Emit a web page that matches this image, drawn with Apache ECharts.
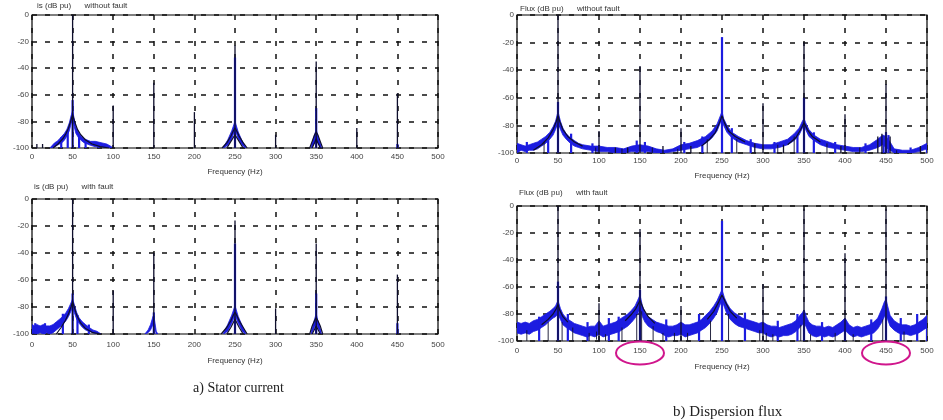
<!DOCTYPE html>
<html>
<head>
<meta charset="utf-8">
<script src="https://cdn.jsdelivr.net/npm/echarts/dist/echarts.min.js"></script>
<style>
  html, body { margin: 0; padding: 0; background: #fff; }
  #chart { width: 943px; height: 420px; }
</style>
</head>
<body>
<div id="chart"></div>
<script>
// Axis ticks shared by all four spectra
const freqTicks = [0, 50, 100, 150, 200, 250, 300, 350, 400, 450, 500];
const dbTicks = [0, -20, -40, -60, -80, -100];

// ---- Stator current, without fault ----
// harmonic lines [Hz, dB]
const curNoFaultLines = [[6,-97],[13,-97],[50,0],[100,-68],[150,-51],[200,-73],[250,-23],[300,-90],[350,-35],[400,-85],[450,-59]];
// thick blue spike part [Hz, dB]
const curNoFaultBlue = [[50,-64],[250,-32],[350,-70],[450,-97],[36,-92],[44,-86],[58,-90],[66,-94],[82,-96]];
// blue noise band [Hz, lower dB, upper dB]
const curNoFaultBand = [
  [22,-100,-100],[25,-100,-98],[28,-99,-96],[31,-98,-95],[34,-97,-93],[37,-96,-91],[40,-94,-89],[43,-91,-86],
  [46,-87,-81],[48,-82,-76],[50,-78,-72],[52,-84,-78],[54,-89,-84],[57,-92,-88],[60,-94,-91],[64,-96,-93],
  [68,-97,-94],[72,-98,-95],[78,-99,-95],[85,-99,-96],[92,-100,-97],[98,-100,-99],
  null,
  [236,-100,-99],[241,-98,-94],[246,-93,-87],[250,-86,-80],[254,-93,-88],[259,-98,-95],[263,-100,-99],
  null,
  [344,-100,-98],[348,-96,-90],[350,-92,-86],[352,-96,-91],[356,-100,-98]
];
// dark skirt outlines [Hz, dB]
const curNoFaultSkirt = [
  [26,-100],[32,-97],[38,-93],[42,-89],[45,-85],[47,-81],[49,-77],[50,-75],[51,-77],[53,-81],[56,-86],[60,-90],[66,-94],[74,-97],[84,-99],[95,-100],'-',
  [234,-100],[240,-96],[245,-91],[248,-87],[250,-85],[252,-87],[255,-91],[260,-96],[265,-100],'-',
  [240,-100],[245,-95],[250,-90],[255,-95],[260,-100],'-',
  [342,-100],[345,-95],[348,-90],[350,-88],[352,-90],[355,-95],[358,-100],'-',
  [345,-100],[348,-96],[350,-93],[352,-96],[355,-100]
];

// ---- Stator current, with fault ----
const curFaultLines = [[50,0],[100,-68],[150,-40],[250,-16],[300,-81],[350,-33],[450,-56]];
const curFaultBlue = [[50,-70],[150,-84],[250,-33],[350,-70],[450,-92],[4,-92],[16,-92],[38,-85],[56,-86],[70,-93]];
const curFaultBand = [
  [0,-100,-93],[3,-99,-94],[6,-100,-93],[10,-99,-94],[14,-100,-93],[18,-99,-94],[22,-100,-94],[26,-99,-93],
  [30,-97,-91],[34,-95,-89],[38,-93,-87],[42,-90,-84],[45,-87,-81],[48,-83,-77],[50,-80,-74],[52,-84,-78],
  [55,-89,-84],[58,-92,-88],[62,-95,-91],[66,-97,-93],[70,-98,-95],[75,-99,-97],[80,-100,-98],[85,-100,-100],
  null,
  [139,-100,-100],[143,-99,-97],[146,-97,-93],[149,-93,-87],[151,-95,-90],[153,-100,-98],[155,-100,-100],
  null,
  [236,-100,-99],[241,-98,-93],[246,-92,-86],[250,-86,-79],[254,-92,-87],[259,-98,-94],[263,-100,-99],
  null,
  [344,-100,-98],[348,-95,-89],[350,-91,-85],[352,-95,-90],[356,-100,-98]
];
const curFaultSkirt = [
  [30,-100],[36,-95],[41,-90],[45,-85],[48,-80],[50,-76],[52,-80],[55,-86],[60,-92],[66,-96],[75,-99],[85,-100],'-',
  [233,-100],[240,-95],[245,-90],[248,-86],[250,-84],[252,-86],[255,-90],[260,-95],[265,-100],'-',
  [240,-100],[245,-95],[250,-89],[255,-95],[260,-100],'-',
  [342,-100],[345,-94],[348,-90],[350,-88],[352,-90],[355,-94],[358,-100],'-',
  [345,-100],[350,-94],[355,-100]
];

// ---- Dispersion flux, without fault ----
const fluxNoFaultLines = [[50,0],[100,-84],[150,-37],[200,-82],[300,-64],[350,-20],[400,-72],[450,-50],
  [120,-96],[135,-96],[178,-95],[212,-95],[290,-93],[325,-94],[395,-95],[440,-88],[445,-86],[455,-88],[492,-95]];
const fluxNoFaultBlue = [[50,-63],[250,-16],[350,-60],[450,-85],[447,-88],[453,-87],[500,-94],
  [12,-92],[38,-88],[66,-86],[92,-93],[146,-91],[156,-92],[204,-92],[226,-88],[262,-82],[285,-90],[314,-92],
  [342,-86],[362,-85],[388,-92],[425,-93],[480,-96]];
const fluxNoFaultBand = [
  [0,-100,-93],[5,-98,-94],[10,-99,-95],[15,-98,-94],[20,-98,-93],[25,-97,-92],[30,-95,-90],[35,-93,-88],
  [40,-90,-85],[44,-87,-81],[47,-83,-77],[50,-78,-70],[53,-83,-77],[56,-87,-82],[60,-90,-86],[65,-93,-89],
  [70,-95,-91],[75,-96,-93],[80,-97,-94],[90,-98,-95],[100,-99,-95],[110,-99,-96],[120,-100,-96],[130,-100,-97],
  [140,-99,-95],[150,-99,-94],[160,-99,-95],[170,-100,-97],[180,-100,-98],[190,-99,-97],[200,-98,-94],[210,-97,-93],
  [220,-96,-91],[230,-93,-88],[238,-89,-84],[244,-84,-79],[248,-78,-73],[250,-76,-70],[252,-80,-75],[256,-85,-80],
  [262,-89,-85],[270,-92,-88],[280,-94,-91],[290,-96,-93],[300,-97,-94],[310,-97,-94],[320,-96,-92],[330,-94,-90],
  [338,-91,-86],[344,-87,-82],[348,-82,-77],[350,-80,-75],[352,-83,-78],[356,-88,-83],[362,-91,-87],[370,-94,-90],
  [380,-96,-92],[390,-97,-94],[400,-98,-95],[410,-99,-96],[420,-99,-96],[430,-98,-94],[440,-96,-90],[446,-94,-87],
  [450,-96,-88],[455,-98,-92],[460,-100,-97],[470,-100,-98],[480,-100,-98],[490,-99,-96],[500,-97,-93]
];
const fluxNoFaultSkirt = [
  [20,-98],[30,-94],[38,-89],[44,-83],[48,-77],[50,-73],[52,-77],[56,-83],[62,-88],[70,-92],[80,-95],'-',
  [225,-95],[235,-90],[242,-85],[247,-78],[250,-73],[253,-78],[258,-84],[266,-88],[278,-92],'-',
  [330,-94],[340,-89],[346,-83],[350,-78],[354,-83],[360,-88],[370,-92]
];
// narrow dips of the noise floor [Hz, upper dB, lower dB]
const fluxNoFaultDips = [[33,-92,-100],[96,-96,-100],[128,-97,-100],[165,-96,-100],[196,-97,-100],[232,-90,-100],
  [268,-90,-100],[318,-94,-100],[338,-88,-100],[378,-93,-100],[418,-96,-100],[463,-98,-100]];

// ---- Dispersion flux, with fault ----
const fluxFaultLines = [[50,0],[100,-72],[150,-17],[200,-74],[300,-58],[350,-2],[400,-35],[450,-2]];
const fluxFaultBlue = [[50,-56],[150,-62],[250,-11],[350,-78],[400,-84],[450,-67],[500,-82],
  [27,-82],[62,-80],[86,-86],[112,-83],[124,-82],[182,-84],[222,-80],[278,-79],[318,-85],[342,-80],
  [372,-86],[432,-84],[468,-83],[488,-80]];
const fluxFaultBand = [
  [0,-94,-86],[5,-95,-87],[10,-94,-86],[15,-95,-87],[20,-93,-85],[25,-92,-84],[30,-90,-82],[35,-88,-80],
  [40,-85,-78],[44,-83,-76],[47,-82,-74],[50,-80,-70],[53,-84,-76],[56,-88,-80],[60,-90,-83],[65,-92,-85],
  [70,-94,-87],[75,-95,-88],[80,-96,-89],[85,-97,-90],[90,-96,-89],[95,-97,-89],[100,-95,-85],[105,-97,-89],
  [110,-96,-88],[115,-95,-87],[120,-94,-86],[125,-93,-84],[130,-91,-82],[135,-89,-80],[140,-86,-77],[144,-83,-74],
  [147,-80,-70],[150,-76,-66],[153,-82,-74],[156,-86,-79],[160,-89,-82],[165,-91,-84],[170,-93,-86],[175,-94,-87],
  [180,-96,-88],[185,-97,-89],[190,-96,-89],[195,-96,-88],[200,-95,-86],[205,-97,-88],[210,-96,-88],[215,-95,-87],
  [220,-94,-86],[225,-92,-84],[230,-90,-81],[235,-87,-78],[240,-83,-74],[244,-79,-70],[247,-74,-66],[250,-70,-62],
  [253,-75,-68],[256,-80,-72],[260,-84,-76],[265,-87,-79],[270,-89,-81],[275,-90,-83],[280,-91,-84],[285,-92,-85],
  [290,-93,-86],[295,-94,-87],[300,-94,-86],[305,-96,-88],[310,-97,-89],[315,-96,-89],[320,-97,-90],[325,-96,-89],
  [330,-96,-88],[335,-95,-87],[340,-93,-85],[345,-90,-81],[348,-88,-79],[350,-86,-77],[353,-90,-82],[356,-94,-86],
  [360,-96,-88],[365,-97,-89],[370,-96,-89],[375,-97,-90],[380,-96,-89],[385,-97,-90],[390,-96,-88],[395,-94,-86],
  [400,-92,-83],[405,-95,-88],[410,-97,-90],[415,-96,-89],[420,-97,-90],[425,-96,-89],[430,-95,-88],[435,-94,-86],
  [440,-91,-83],[445,-86,-76],[448,-82,-71],[450,-80,-69],[452,-84,-74],[455,-89,-81],[460,-92,-85],[465,-94,-87],
  [470,-95,-88],[475,-95,-88],[480,-96,-89],[485,-95,-88],[490,-94,-86],[495,-92,-84],[500,-90,-81]
];
const fluxFaultSkirt = [
  [30,-88],[38,-84],[44,-80],[48,-76],[50,-73],[52,-77],[56,-82],[62,-86],'-',
  [132,-85],[140,-80],[145,-76],[150,-70],[154,-76],[160,-82],[168,-87],'-',
  [232,-84],[240,-78],[246,-71],[250,-66],[254,-71],[260,-78],[268,-83]
];
const fluxFaultDips = [[12,-92,-100],[38,-86,-100],[55,-86,-100],[68,-90,-100],[88,-94,-100],[97,-93,-99],[108,-95,-100],
  [128,-90,-100],[146,-80,-100],[152,-78,-100],[166,-89,-100],[178,-94,-100],[192,-94,-100],[208,-94,-100],[236,-85,-100],
  [258,-80,-100],[296,-92,-100],[304,-94,-100],[312,-95,-100],[346,-88,-100],[358,-95,-100],[388,-94,-100],[410,-95,-100],
  [446,-84,-100],[472,-93,-100]];

// ---- layout of the four spectra ----
const panels = [
  { grid: { left: 32, top: 15, width: 406, height: 133 }, title: 'is (dB pu)      without fault', tpos: [37, 2],
    lines: curNoFaultLines, blue: curNoFaultBlue, band: curNoFaultBand, skirt: curNoFaultSkirt, dips: [], lm: 5, ng: 20 },
  { grid: { left: 32, top: 199, width: 406, height: 135 }, title: 'is (dB pu)      with fault', tpos: [34, 183],
    lines: curFaultLines, blue: curFaultBlue, band: curFaultBand, skirt: curFaultSkirt, dips: [], lm: 7, ng: 23 },
  { grid: { left: 517, top: 15, width: 410, height: 138 }, title: 'Flux (dB pu)      without fault', tpos: [520, 5],
    lines: fluxNoFaultLines, blue: fluxNoFaultBlue, band: fluxNoFaultBand, skirt: fluxNoFaultSkirt, dips: fluxNoFaultDips, lm: 4, ng: 19 },
  { grid: { left: 517, top: 206, width: 410, height: 135 }, title: 'Flux (dB pu)      with fault', tpos: [519, 189],
    lines: fluxFaultLines, blue: fluxFaultBlue, band: fluxFaultBand, skirt: fluxFaultSkirt, dips: fluxFaultDips, lm: 6, ng: 22 }
];

const BLUE = '#1c1ce0';
const DARK = '#0e0e2c';
const FONT = '"Liberation Sans", Arial, sans-serif';
const SERIF = '"Liberation Serif", "Times New Roman", serif';
const yBase = dbTicks[dbTicks.length - 1];

// vertical segments [x, y1, y2] through the axes of one panel
function segmentSeries(i, data, color, width, z) {
  return {
    type: 'custom', xAxisIndex: i, yAxisIndex: i, silent: true, z: z, clip: true,
    data: data,
    renderItem: function (params, api) {
      const a = api.coord([api.value(0), api.value(1)]);
      const b = api.coord([api.value(0), api.value(2)]);
      return { type: 'line', shape: { x1: a[0], y1: a[1], x2: b[0], y2: b[1] },
               style: { stroke: color, lineWidth: width } };
    }
  };
}

// filled noise band between lower and upper edges, split at null entries
function bandSeries(i, band, color, z) {
  return {
    type: 'custom', xAxisIndex: i, yAxisIndex: i, silent: true, z: z, clip: true,
    data: [[band[0][0], band[0][1]]],
    renderItem: function (params, api) {
      const parts = [[]];
      band.forEach(function (d) { if (d === null) parts.push([]); else parts[parts.length - 1].push(d); });
      const children = parts.filter(function (p) { return p.length > 1; }).map(function (p) {
        const upper = p.map(function (d) { return api.coord([d[0], d[2]]); });
        const lower = p.slice().reverse().map(function (d) { return api.coord([d[0], d[1]]); });
        return { type: 'polygon', shape: { points: upper.concat(lower) },
                 style: { fill: color, stroke: color, lineWidth: 0.8 } };
      });
      return { type: 'group', children: children };
    }
  };
}

const option = {
  backgroundColor: '#fff',
  animation: false,
  title: panels.map(function (p) {
    return { text: p.title, left: p.tpos[0], top: p.tpos[1], padding: 0,
             textStyle: { fontFamily: FONT, fontSize: 8, fontWeight: 'normal', color: '#333' } };
  }).concat([
    { text: 'a) Stator current', left: 193, top: 381, padding: 0,
      textStyle: { fontFamily: SERIF, fontSize: 14, fontWeight: 'normal', color: '#222' } },
    { text: 'b) Dispersion flux', left: 673, top: 405, padding: 0,
      textStyle: { fontFamily: SERIF, fontSize: 15, fontWeight: 'normal', color: '#222' } }
  ]),
  grid: panels.map(function (p) {
    return Object.assign({ show: true, borderColor: '#000', borderWidth: 1.2, backgroundColor: '#fff' }, p.grid);
  }),
  xAxis: panels.map(function (p, i) {
    return {
      type: 'value', gridIndex: i, min: freqTicks[0], max: freqTicks[freqTicks.length - 1],
      interval: freqTicks[1] - freqTicks[0],
      name: 'Frequency (Hz)', nameLocation: 'middle', nameGap: p.ng,
      nameTextStyle: { fontFamily: FONT, fontSize: 8, color: '#333' },
      axisLine: { show: false }, axisTick: { show: false },
      axisLabel: { fontFamily: FONT, fontSize: 8, color: '#444', margin: p.lm },
      splitLine: { show: true, lineStyle: { color: '#111', width: 1.5, type: [5, 8] } }
    };
  }),
  yAxis: panels.map(function (p, i) {
    return {
      type: 'value', gridIndex: i, min: yBase, max: dbTicks[0], interval: dbTicks[0] - dbTicks[1],
      axisLine: { show: false }, axisTick: { show: false },
      axisLabel: { fontFamily: FONT, fontSize: 8, color: '#444', margin: 3 },
      splitLine: { show: true, lineStyle: { color: '#111', width: 1.5, type: [5, 8] } }
    };
  }),
  series: []
};

panels.forEach(function (p, i) {
  option.series.push(bandSeries(i, p.band, BLUE, 2));
  option.series.push(segmentSeries(i, p.blue.map(function (d) { return [d[0], d[1], yBase]; }), BLUE, 2.2, 3));
  if (p.dips.length) option.series.push(segmentSeries(i, p.dips, DARK, 0.9, 4));
  option.series.push({
    type: 'line', xAxisIndex: i, yAxisIndex: i, data: p.skirt, showSymbol: false, symbol: 'none',
    silent: true, z: 5, lineStyle: { color: DARK, width: 1.2 }, connectNulls: false
  });
  option.series.push(segmentSeries(i, p.lines.map(function (d) { return [d[0], d[1], yBase]; }), DARK, 1.3, 6));
});

const chart = echarts.init(document.getElementById('chart'), null, { renderer: 'canvas' });
chart.setOption(option);

// rings round the 150 Hz and 450 Hz labels of the faulty flux spectrum
const ringFreqs = [150, 450];
const labelY = panels[3].grid.top + panels[3].grid.height + 12;
chart.setOption({
  graphic: ringFreqs.map(function (f) {
    const cx = chart.convertToPixel({ xAxisIndex: 3 }, f);
    return { type: 'ellipse', shape: { cx: cx, cy: labelY, rx: 24, ry: 11.5 },
             style: { fill: 'none', stroke: '#d0168c', lineWidth: 2 }, z: 100 };
  })
});
</script>
</body>
</html>
